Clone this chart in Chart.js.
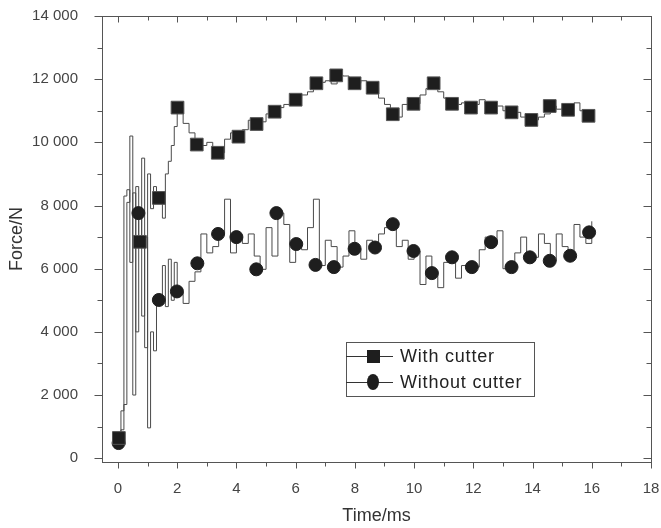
<!DOCTYPE html>
<html>
<head>
<meta charset="utf-8">
<script src="https://cdn.jsdelivr.net/npm/chart.js@4.4.1/dist/chart.umd.min.js"></script>
<style>
  html, body { margin: 0; padding: 0; background: #fff; }
  #wrap { width: 661px; height: 528px; }
</style>
</head>
<body>
<div id="wrap"><canvas id="c" width="661" height="528"></canvas></div>
<script>
// ---- Data ----
const timeMs = [0,0.1,0.2,0.3,0.4,0.5,0.6,0.7,0.8,0.9,1.0,1.1,1.2,1.3,1.4,1.5,1.6,1.7,1.8,1.9,2.0,
  2.2,2.4,2.6,2.8,3.0,3.2,3.4,3.6,3.8,4.0,4.2,4.4,4.6,4.8,5.0,5.2,5.4,5.6,5.8,6.0,
  6.2,6.4,6.6,6.8,7.0,7.2,7.4,7.6,7.8,8.0,8.2,8.4,8.6,8.8,9.0,9.2,9.4,9.6,9.8,10.0,
  10.2,10.4,10.6,10.8,11.0,11.2,11.4,11.6,11.8,12.0,12.2,12.4,12.6,12.8,13.0,13.2,13.4,13.6,13.8,14.0,
  14.2,14.4,14.6,14.8,15.0,15.2,15.4,15.6,15.8,16.0];

const withCutterLine = [600,900,1700,8100,10200,2000,8600,6850,9500,3500,9000,7900,8600,8300,8240,7600,9000,9400,9900,10500,11100,
  10600,10300,10000,9900,10000,9700,9670,10100,10300,10180,10400,10700,10580,10650,10900,10970,11100,11200,11300,11360,
  11500,11600,11850,11900,11950,11850,12120,12100,11950,11870,11950,11800,11730,11400,11200,10890,10800,11200,11250,11220,
  11500,11700,11870,11600,11400,11220,11200,11250,11100,11200,11350,11200,11100,11150,11000,10950,10950,10800,10700,10710,
  10800,10900,11150,11050,11100,11030,11250,11000,10950,10840];

const withoutCutterLine = [480,1500,8300,8500,6200,8400,4000,7760,4500,7000,960,4000,3400,5000,5010,6100,4800,6300,5000,6200,5280,
  4900,5600,5900,7100,6500,6700,7100,8200,6500,7000,6800,7100,6400,5980,7300,6400,7760,7400,6200,6780,
  6600,7300,8200,6100,6900,6700,6050,6400,7200,6630,6300,6900,6670,7100,7300,7410,6700,6900,6300,6560,
  5500,6400,5860,5400,6200,6360,5700,6100,5900,6050,6600,7000,6840,7200,6000,6050,6500,7000,6300,6360,
  7100,6800,6250,7100,6700,6410,7400,7000,6800,7500];

const markerTimeWith = [0.03,0.74,1.38,2.01,2.66,3.37,4.07,4.68,5.29,6.0,6.7,7.37,7.99,8.6,9.28,9.98,10.66,11.28,11.92,12.6,13.29,13.96,14.58,15.2,15.89];
const withCutterMarkers = [640,6850,8240,11100,9930,9670,10180,10580,10970,11350,11870,12120,11870,11730,10890,11220,11870,11220,11100,11100,10950,10710,11150,11030,10840];

const markerTimeWithout = [0.02,0.69,1.38,1.99,2.68,3.38,4.0,4.67,5.35,6.02,6.67,7.29,7.99,8.68,9.28,9.98,10.6,11.28,11.95,12.6,13.29,13.91,14.58,15.27,15.91];
const withoutCutterMarkers = [480,7760,5010,5280,6170,7100,7000,5980,7760,6780,6120,6050,6630,6670,7410,6560,5860,6360,6050,6840,6050,6360,6250,6410,7150];

const xTicks = [0,2,4,6,8,10,12,14,16,18];
const yTicks = [0,2000,4000,6000,8000,10000,12000,14000];
const xMinorTicks = [1,3,5,7,9,11,13,15,17];
const yMinorTicks = [1000,3000,5000,7000,9000,11000,13000];
const seriesNames = ['With cutter','Without cutter'];

// ---- Build datasets ----
const toXY = (xs, ys) => xs.map((x, i) => ({ x: x, y: ys[i] }));
const lineColor = '#4a4a4a';
const markColor = '#1e1e1e';

const datasets = [
  { label: seriesNames[0] + ' line', data: toXY(timeMs, withCutterLine), showLine: true, stepped: true,
    borderColor: lineColor, borderWidth: 1, pointRadius: 0, fill: false, order: 3 },
  { label: seriesNames[1] + ' line', data: toXY(timeMs, withoutCutterLine), showLine: true, stepped: true,
    borderColor: lineColor, borderWidth: 1, pointRadius: 0, fill: false, order: 4 },
  { label: seriesNames[0], data: toXY(markerTimeWith, withCutterMarkers), showLine: false,
    pointStyle: 'rect', pointRadius: 9, backgroundColor: markColor, borderColor: '#555', borderWidth: 1, order: 1 },
  { label: seriesNames[1], data: toXY(markerTimeWithout, withoutCutterMarkers), showLine: false,
    pointStyle: 'circle', pointRadius: 6.5, backgroundColor: markColor, borderColor: markColor, borderWidth: 1, order: 2 }
];

const fmt = v => {
  const s = String(Math.round(v));
  return s.length > 3 ? s.slice(0, s.length - 3) + ' ' + s.slice(-3) : s;
};

// frame, ticks and legend box drawn with the scales
const framePlugin = {
  id: 'frame',
  afterDatasetsDraw(chart) {
    const ctx = chart.ctx, a = chart.chartArea;
    const xs = chart.scales.x, ys = chart.scales.y;
    ctx.save();
    ctx.strokeStyle = '#555';
    ctx.lineWidth = 1;
    ctx.strokeRect(Math.round(a.left) + 0.5, Math.round(a.top) + 0.5, Math.round(a.right - a.left), Math.round(a.bottom - a.top));
    ctx.beginPath();
    const bx = Math.round(a.bottom) + 0.5, tx = Math.round(a.top) + 0.5;
    const drawX = (v, len) => {
      const p = Math.round(xs.getPixelForValue(v)) + 0.5;
      ctx.moveTo(p, bx); ctx.lineTo(p, bx + len);
      ctx.moveTo(p, tx); ctx.lineTo(p, tx + len);
    };
    xTicks.forEach(v => drawX(v, 6));
    xMinorTicks.forEach(v => drawX(v, 4));
    const lx = Math.round(a.left) + 0.5, rx = Math.round(a.right) + 0.5;
    const drawY = (v, len) => {
      const p = Math.round(ys.getPixelForValue(v)) + 0.5;
      ctx.moveTo(lx, p); ctx.lineTo(lx - len, p);
      ctx.moveTo(rx, p); ctx.lineTo(rx - len, p);
    };
    yTicks.forEach(v => drawY(v, 8));
    yMinorTicks.forEach(v => drawY(v, 5));
    ctx.stroke();

    // legend box
    const L = { x: 346, y: 342, w: 188, h: 54 };
    ctx.fillStyle = '#fff';
    ctx.fillRect(L.x, L.y, L.w, L.h);
    ctx.strokeStyle = '#555';
    ctx.strokeRect(L.x + 0.5, L.y + 0.5, L.w, L.h);
    const rows = [L.y + 14, L.y + 40];
    ctx.strokeStyle = '#333';
    ctx.beginPath();
    rows.forEach(r => { ctx.moveTo(L.x, r + 0.5); ctx.lineTo(L.x + 47, r + 0.5); });
    ctx.stroke();
    ctx.fillStyle = markColor;
    ctx.fillRect(L.x + 21, rows[0] - 6, 13, 13);
    ctx.beginPath();
    ctx.ellipse(L.x + 27, rows[1], 6, 8, 0, 0, Math.PI * 2);
    ctx.fill();
    ctx.fillStyle = '#222';
    ctx.font = '18px "Liberation Sans", Arial, sans-serif';
    try { ctx.letterSpacing = '0.8px'; } catch (e) {}
    ctx.textBaseline = 'middle';
    ctx.textAlign = 'left';
    ctx.fillText(seriesNames[0], L.x + 54, rows[0] + 1);
    ctx.fillText(seriesNames[1], L.x + 54, rows[1] + 1);
    ctx.restore();
  }
};

const tickFont = { family: '"Liberation Sans", Arial, sans-serif', size: 15 };
const titleFont = { family: '"Liberation Sans", Arial, sans-serif', size: 18 };

new Chart(document.getElementById('c'), {
  type: 'scatter',
  data: { datasets: datasets },
  options: {
    responsive: false,
    animation: false,
    layout: { padding: { top: 16, right: 9, left: 0, bottom: 0 } },
    plugins: { legend: { display: false }, tooltip: { enabled: false } },
    scales: {
      x: {
        type: 'linear', min: -0.54, max: 18,
        afterBuildTicks: s => { s.ticks = xTicks.map(v => ({ value: v })); },
        afterFit: s => { s.height = 66; s.paddingLeft = 0; s.paddingRight = 0; },
        grid: { display: false }, border: { display: false },
        ticks: { color: '#444', font: tickFont, padding: 10, maxRotation: 0, callback: v => fmt(v) },
        title: { display: true, text: 'Time/ms', color: '#333', font: titleFont, padding: { top: 0, bottom: 1 } }
      },
      y: {
        type: 'linear', min: -120, max: 14000,
        afterBuildTicks: s => { s.ticks = yTicks.map(v => ({ value: v })); },
        afterFit: s => { s.width = 102; s.paddingTop = 0; s.paddingBottom = 0; },
        grid: { display: false }, border: { display: false },
        ticks: { color: '#444', font: tickFont, padding: 16, callback: v => fmt(v) },
        title: { display: true, text: 'Force/N', color: '#333', font: titleFont, padding: { top: 6, bottom: 0 } }
      }
    }
  },
  plugins: [framePlugin]
});
</script>
</body>
</html>
